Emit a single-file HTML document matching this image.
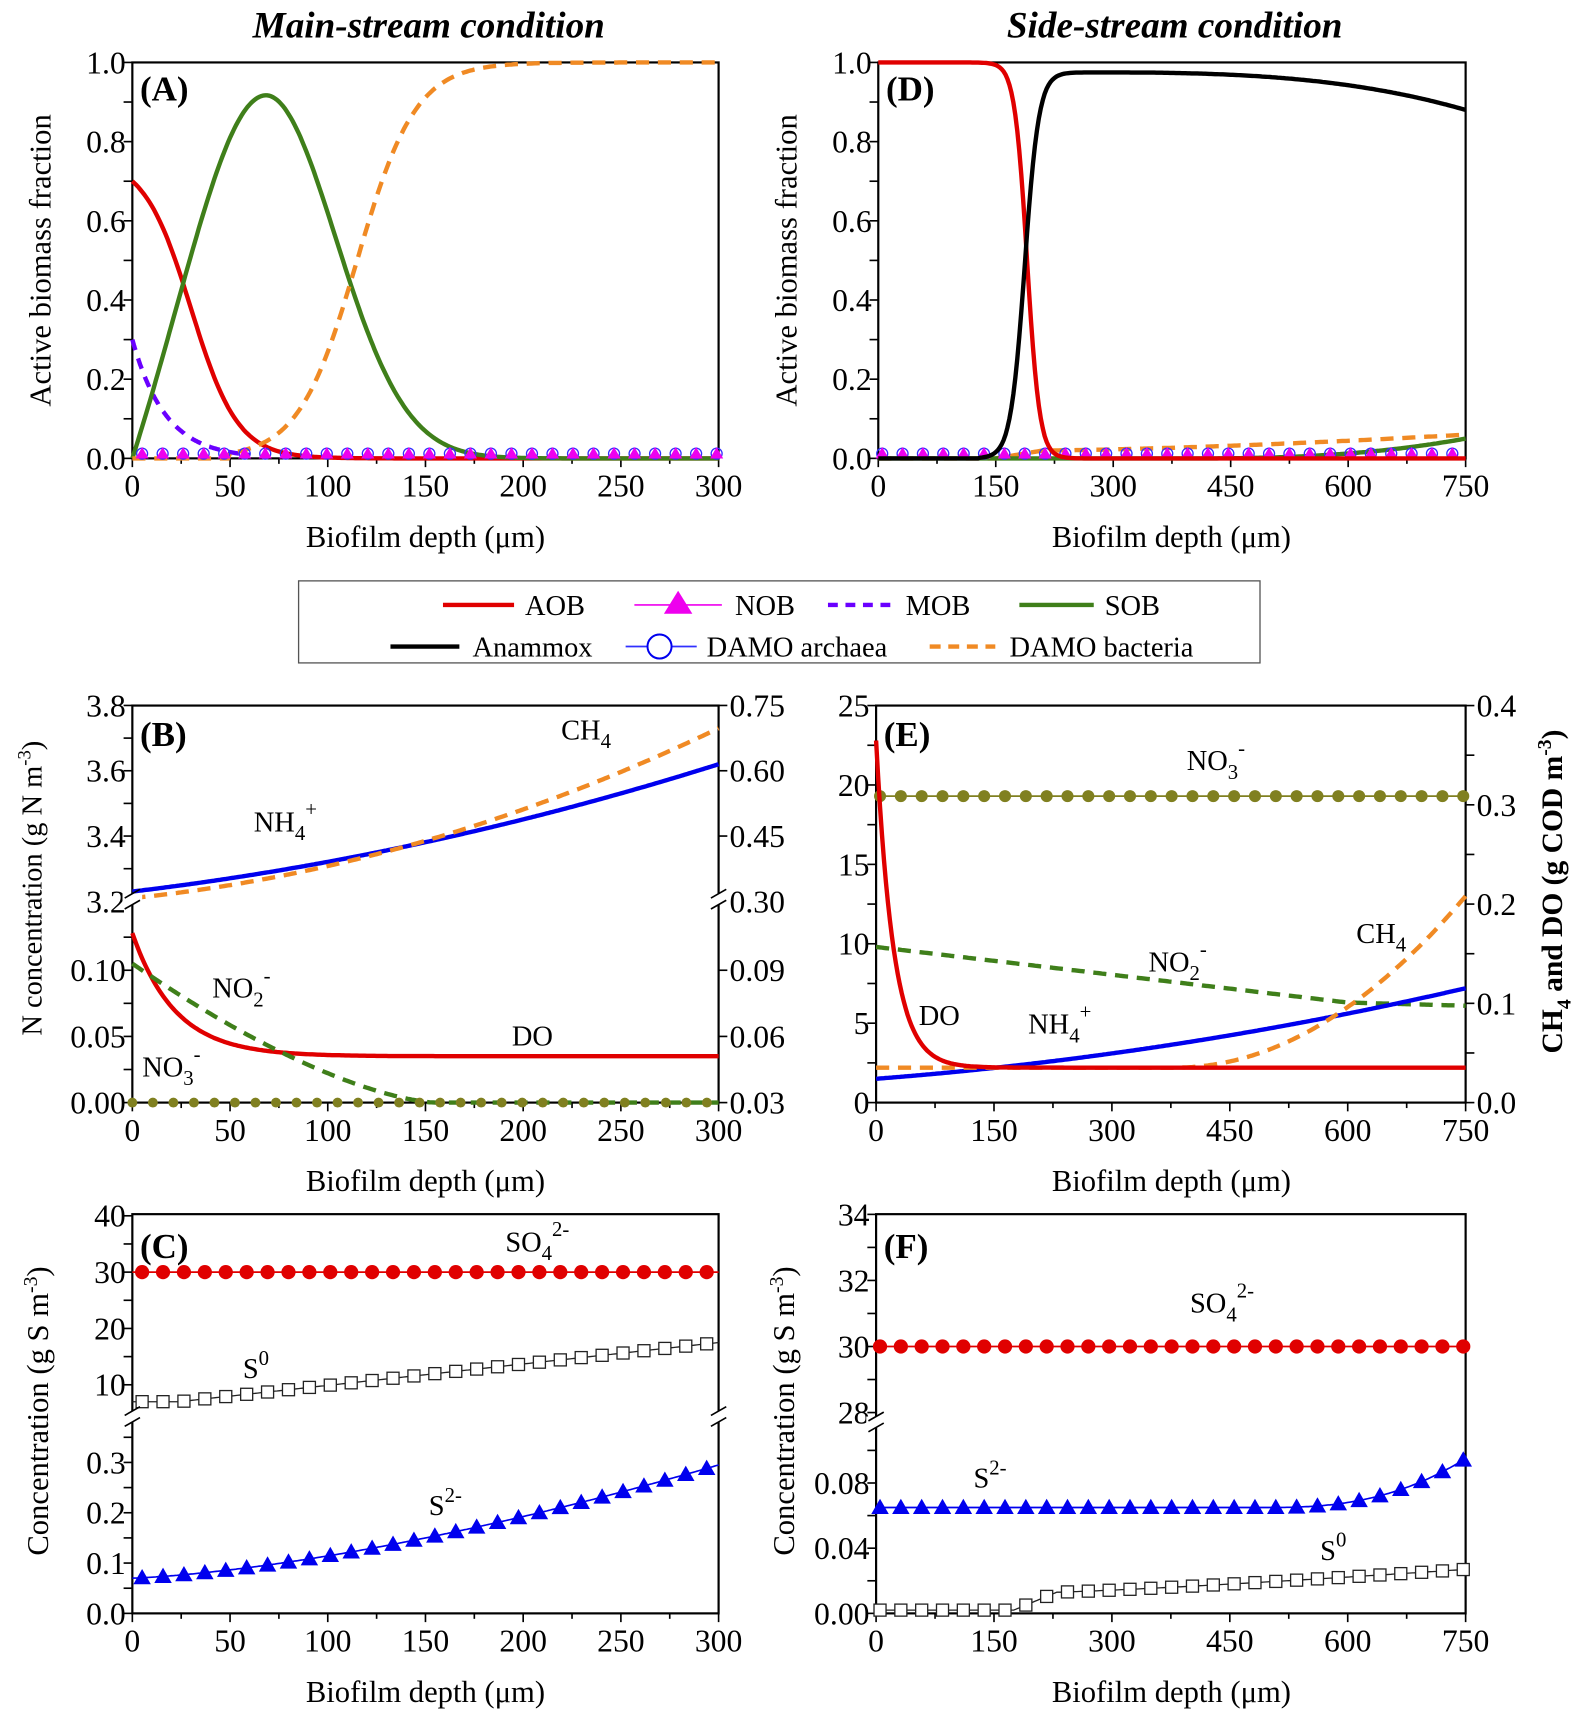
<!DOCTYPE html>
<html><head><meta charset="utf-8"><style>html,body{margin:0;padding:0;background:#fff}svg{display:block}</style></head>
<body>
<svg id="s" width="1575" height="1713" viewBox="0 0 1440 1566" xmlns="http://www.w3.org/2000/svg" font-family="Liberation Serif, serif"></svg>
<script>
const S=document.getElementById('s');let h='';
function ln(a,b,c,d,st,w,extra){h+=`<line x1="${a}" y1="${b}" x2="${c}" y2="${d}" stroke="${st}" stroke-width="${w}" ${extra||''}/>`;}
function tx(x,y,t,sz,anch,extra){h+=`<text x="${x}" y="${y}" font-size="${sz}" text-anchor="${anch||'middle'}" ${extra||''}>${t}</text>`;}
function P(x0,x1,xmax){return v=>x0+(x1-x0)*v/xmax;}
function curve(mx,my,f,a,b,col,w,dash){let d='';const n=300;for(let i=0;i<=n;i++){const x=a+(b-a)*i/n;d+=(i?'L':'M')+mx(x).toFixed(1)+' '+my(f(x)).toFixed(1);}h+=`<path d="${d}" fill="none" stroke="${col}" stroke-width="${w}" ${dash?`stroke-dasharray="${dash}"`:''}/>`;}
function markers(mx,my,f,start,step,end,type,col,sz){for(let x=start;x<=end+0.01;x+=step){const X=mx(x),Y=my(f(x));
 if(type=='c')h+=`<circle cx="${X}" cy="${Y}" r="${sz}" fill="${col}"/>`;
 else if(type=='oc')h+=`<circle cx="${X}" cy="${Y}" r="${sz}" fill="none" stroke="${col}" stroke-width="1.2"/>`;
 else if(type=='t')h+=`<polygon points="${X},${Y-sz} ${X-sz},${Y+sz*0.75} ${X+sz},${Y+sz*0.75}" fill="${col}"/>`;
 else if(type=='s')h+=`<rect x="${X-sz}" y="${Y-sz}" width="${2*sz}" height="${2*sz}" fill="#fff" stroke="#222" stroke-width="1.2"/>`;}}
function frame(x0,x1,y0,y1,xmax,xstep){h+=`<rect x="${x0}" y="${y0}" width="${x1-x0}" height="${y1-y0}" fill="none" stroke="#000" stroke-width="2"/>`;
 const mx=P(x0,x1,xmax);for(let v=0;v<=xmax+0.01;v+=xstep/2){const X=mx(v);const major=Math.abs(v/xstep-Math.round(v/xstep))<1e-6;ln(X,y1,X,y1+(major?8:5),'#000',1.5);if(major)tx(X,y1+35,v,29);}
 return mx;}
function yt(x,Y,lab,side){if(side=='r'){ln(x,Y,x+8,Y,'#000',1.5);if(lab!=null)tx(x+10,Y+10,lab,29,'start');}else{ln(x-8,Y,x,Y,'#000',1.5);if(lab!=null)tx(x-6,Y+10,lab,29,'end');}}
function brk(x,Y){h+=`<rect x="${x-9}" y="${Y-5}" width="18" height="10" fill="#fff"/>`;ln(x-7,Y-1,x+7,Y-9,'#000',1.5);ln(x-7,Y+9,x+7,Y+1,'#000',1.5);}
function ylab(x,y,t,sz,extra){h+=`<text transform="translate(${x},${y}) rotate(-90)" font-size="${sz||28}" text-anchor="middle" ${extra||''}>${t}</text>`;}
const RED='#e00000',GRN='#3f7f1a',ORG='#f08a24',BLU='#0000ee',MAG='#ee00ee',PUR='#6a00ff',OLV='#808020';
const LW=4;
tx(392,34,'Main-stream condition',34,'middle','font-weight="bold" font-style="italic"');
tx(1074,34,'Side-stream condition',34,'middle','font-weight="bold" font-style="italic"');

// A
{const x0=121,x1=657,y0=57,y1=419;const mx=frame(x0,x1,y0,y1,300,50);const my=v=>y1-(y1-y0)*v;
for(let i=0;i<=10;i++){yt(x0,my(i/10),i%2==0?(i/10).toFixed(1):null);}
curve(mx,my,x=>0.7*(1+Math.exp(-30/12))/(1+Math.exp((x-30)/12)),0,300,RED,LW);
curve(mx,my,x=>0.3*Math.exp(-x/17),0,60,PUR,LW,'10 8');
curve(mx,my,x=>0.92*Math.exp(-Math.pow(x-68,2)/(2*(x<68?38:36)**2))*(1-Math.exp(-x/12)),0,300,GRN,LW);
curve(mx,my,x=>{const v=1/(1+Math.exp(-(x-115)/15));return x<50?0:v;},0,300,ORG,LW,'12 8');
markers(mx,my,x=>0.012,5,10.5,300,'oc','#3030ff',5);markers(mx,my,x=>0.012,5,10.5,300,'t',MAG,6);
tx(128,92,'(A)',32,'start','font-weight="bold"');
tx(389,500,'Biofilm depth (μm)',28);ylab(46,238,'Active biomass fraction');}

// D
{const x0=803,x1=1340,y0=57,y1=419;const mx=frame(x0,x1,y0,y1,750,150);const my=v=>y1-(y1-y0)*v;
for(let i=0;i<=10;i++){yt(x0,my(i/10),i%2==0?(i/10).toFixed(1):null);}
curve(mx,my,x=>0.02*Math.min(1,Math.max(0,(x-150)/60))+0.04*Math.pow(Math.max(0,x-210)/540,1.5),0,750,ORG,LW,'12 8');
curve(mx,my,x=>0.05*Math.pow(Math.max(0,x-400)/350,2.5),0,750,GRN,LW);
markers(mx,my,x=>0.012,5,26,750,'oc','#3030ff',5);markers(mx,my,x=>0.012,5,26,750,'t',MAG,6);
curve(mx,my,x=>1/(1+Math.exp((x-190)/8)),0,750,RED,LW);
curve(mx,my,x=>{let v=0.975/(1+Math.exp(-(x-187)/9));if(x>250)v-=0.095*Math.pow((x-250)/500,3);return x<130?0:v;},0,750,'#000',LW);
tx(810,92,'(D)',32,'start','font-weight="bold"');
tx(1071,500,'Biofilm depth (μm)',28);ylab(728,238,'Active biomass fraction');}

// Legend
h+=`<rect x="273" y="531" width="879" height="75" fill="#fff" stroke="#555" stroke-width="1.2"/>`;
ln(405,553,470,553,RED,LW);tx(480,562,'AOB',26,'start');
ln(580,553,660,553,MAG,1.5);h+=`<polygon points="620,540 607,561 633,561" fill="${MAG}"/>`;tx(672,562,'NOB',26,'start');
ln(757,553,815,553,PUR,LW,'stroke-dasharray="9 7"');tx(828,562,'MOB',26,'start');
ln(932,553,1000,553,GRN,LW);tx(1010,562,'SOB',26,'start');
ln(357,591,420,591,'#000',LW);tx(432,600,'Anammox',26,'start');
ln(572,591,637,591,'#3030ff',1.5);h+=`<circle cx="603" cy="591" r="11" fill="#fff" stroke="#0000ee" stroke-width="1.8"/>`;tx(646,600,'DAMO archaea',26,'start');
ln(850,591,910,591,ORG,LW,'stroke-dasharray="10 7"');tx(923,600,'DAMO bacteria',26,'start');

// B
{const x0=121,x1=657,y0=645,y1=1008;const mx=frame(x0,x1,y0,y1,300,50);
const myU=v=>824-(v-3.2)/0.2*59.7;const myL=v=>1008-v/0.05*60.5;
[3.2,3.4,3.6,3.8].forEach(v=>yt(x0,myU(v),v.toFixed(1)));[3.3,3.5,3.7].forEach(v=>yt(x0,myU(v),null));
[0,0.05,0.1].forEach(v=>yt(x0,myL(v),v.toFixed(2)));[0.025,0.075,0.125].forEach(v=>yt(x0,myL(v),null));
const rU=['0.30','0.45','0.60','0.75'],rL=['0.03','0.06','0.09'];
[3.2,3.4,3.6,3.8].forEach((v,i)=>yt(x1,myU(v),rU[i],'r'));[0,0.05,0.1].forEach((v,i)=>yt(x1,myL(v),rL[i],'r'));
curve(mx,myU,x=>{const t=x/300;return 3.23+0.39*(0.55*t+0.45*t*t)},0,300,BLU,LW);
curve(mx,myU,x=>{const t=x/300;return 3.21+0.52*(0.35*t+0.65*t*t)},0,300,ORG,LW,'12 8');
curve(mx,myL,x=>0.035+0.093*Math.exp(-x/22),0,300,RED,LW);
curve(mx,myL,x=>x<155?0.105*Math.pow(1-x/155,1.5):0,0,300,GRN,LW,'12 8');
markers(mx,myL,x=>0,0,10.5,300,'c',OLV,4.5);
brk(x0,822);brk(x1,822);
tx(128,682,'(B)',32,'start','font-weight="bold"');
tx(513,676,'CH<tspan font-size="19" dy="8">4</tspan>',26,'start');
tx(232,760,'NH<tspan font-size="19" dy="8">4</tspan><tspan font-size="19" dy="-22">+</tspan>',26,'start');
tx(194,912,'NO<tspan font-size="19" dy="8">2</tspan><tspan font-size="19" dy="-22">-</tspan>',26,'start');
tx(130,984,'NO<tspan font-size="19" dy="8">3</tspan><tspan font-size="19" dy="-22">-</tspan>',26,'start');
tx(468,956,'DO',26,'start');
tx(389,1089,'Biofilm depth (μm)',28);ylab(38,812,'N concentration (g N m<tspan font-size="17" dy="-10">-3</tspan><tspan dy="10">)</tspan>',26);}

// E
{const x0=801,x1=1340,y0=645,y1=1008;const mx=frame(x0,x1,y0,y1,750,150);const my=v=>y1-(y1-y0)*v/25;
for(let v=0;v<=25;v+=2.5)yt(x0,my(v),v%5==0?v:null);
for(let i=0;i<=8;i++)yt(x1,my(i*25/8),i%2==0?(i/20).toFixed(1):null,'r');
curve(mx,my,x=>19.3,0,750,OLV,1.5);markers(mx,my,x=>19.3,5,26.5,750,'c',OLV,5.5);
curve(mx,my,x=>x<600?9.8-3.5*x/600:6.3-0.2*(x-600)/150,0,750,GRN,LW,'12 8');
curve(mx,my,x=>1.5+5.7*(0.5*x/750+0.5*(x/750)**2),0,750,BLU,LW);
curve(mx,my,x=>2.2+10.8*Math.pow(Math.max(0,(x-380)/370),2),0,750,ORG,LW,'12 8');
curve(mx,my,x=>2.2+20.6*Math.exp(-x/22),0,750,RED,LW);
tx(808,682,'(E)',32,'start','font-weight="bold"');
tx(1085,704,'NO<tspan font-size="19" dy="8">3</tspan><tspan font-size="19" dy="-22">-</tspan>',26,'start');
tx(1050,888,'NO<tspan font-size="19" dy="8">2</tspan><tspan font-size="19" dy="-22">-</tspan>',26,'start');
tx(1240,862,'CH<tspan font-size="19" dy="8">4</tspan>',26,'start');
tx(940,945,'NH<tspan font-size="19" dy="8">4</tspan><tspan font-size="19" dy="-22">+</tspan>',26,'start');
tx(840,937,'DO',26,'start');
tx(1071,1089,'Biofilm depth (μm)',28);
ylab(1428,815,'CH<tspan font-size="18" dy="8">4</tspan><tspan dy="-8"> and DO (g COD m</tspan><tspan font-size="18" dy="-10">-3</tspan><tspan dy="10">)</tspan>',27,'font-weight="bold"');}

// C
{const x0=121,x1=657,y0=1110,y1=1475;const mx=frame(x0,x1,y0,y1,300,50);
const myU=v=>1163-(v-30)*5.15;const myL=v=>1475-v*460;
[10,20,30,40].forEach(v=>yt(x0,myU(v),v));[15,25,35].forEach(v=>yt(x0,myU(v),null));
[0,0.1,0.2,0.3].forEach(v=>yt(x0,myL(v),v.toFixed(1)));[0.05,0.15,0.25,0.35].forEach(v=>yt(x0,myL(v),null));
curve(mx,myU,x=>30,0,300,RED,1.5);markers(mx,myU,x=>30,5,10.7,300,'c',RED,6.5);
const s0=x=>{const t=x/300;return 7+10.5*(t<0.08?0:Math.pow((t-0.08)/0.92,1.0))};
curve(mx,myU,s0,0,300,'#222',1.2);markers(mx,myU,s0,5,10.7,300,'s','#222',5.5);
const s2=x=>{const t=x/300;return 0.07+0.225*(0.15*t+0.85*Math.pow(t,1.6))};
curve(mx,myL,s2,0,300,BLU,1.5);markers(mx,myL,s2,5,10.7,300,'t',BLU,8);
brk(x0,1295);brk(x1,1295);
tx(128,1150,'(C)',32,'start','font-weight="bold"');
tx(462,1144,'SO<tspan font-size="19" dy="8">4</tspan><tspan font-size="19" dy="-22">2-</tspan>',26,'start');
tx(222,1260,'S<tspan font-size="19" dy="-12">0</tspan>',26,'start');
tx(392,1385,'S<tspan font-size="19" dy="-12">2-</tspan>',26,'start');
tx(389,1556,'Biofilm depth (μm)',28);ylab(44,1290,'Concentration (g S m<tspan font-size="18" dy="-10">-3</tspan><tspan dy="10">)</tspan>');}

// F
{const x0=801,x1=1340,y0=1110,y1=1475;const mx=frame(x0,x1,y0,y1,750,150);
const myU=v=>1231-(v-30)*30.2;const myL=v=>1475-v*1490;
[28,30,32,34].forEach(v=>yt(x0,myU(v),v));[29,31,33].forEach(v=>yt(x0,myU(v),null));
[0,0.04,0.08].forEach(v=>yt(x0,myL(v),v.toFixed(2)));[0.02,0.06,0.1].forEach(v=>yt(x0,myL(v),null));
curve(mx,myU,x=>30,0,750,RED,1.5);markers(mx,myU,x=>30,5,26.5,750,'c',RED,6.5);
const s2=x=>0.065+0.03*Math.pow(Math.max(0,(x-500)/250),2.5);
curve(mx,myL,s2,0,750,BLU,1.5);markers(mx,myL,s2,5,26.5,750,'t',BLU,8);
const s0=x=>x<175?0.002:(x<230?0.002+0.011*(x-175)/55:0.013+0.014*Math.pow((x-230)/520,1.2));
curve(mx,myL,s0,0,750,'#222',1.2);markers(mx,myL,s0,5,26.5,750,'s','#222',5.5);
brk(x0,1300);
tx(808,1150,'(F)',32,'start','font-weight="bold"');
tx(1088,1200,'SO<tspan font-size="19" dy="8">4</tspan><tspan font-size="19" dy="-22">2-</tspan>',26,'start');
tx(890,1360,'S<tspan font-size="19" dy="-12">2-</tspan>',26,'start');
tx(1207,1426,'S<tspan font-size="19" dy="-12">0</tspan>',26,'start');
tx(1071,1556,'Biofilm depth (μm)',28);ylab(726,1290,'Concentration (g S m<tspan font-size="18" dy="-10">-3</tspan><tspan dy="10">)</tspan>');}
S.innerHTML=h;
</script>
</body></html>
